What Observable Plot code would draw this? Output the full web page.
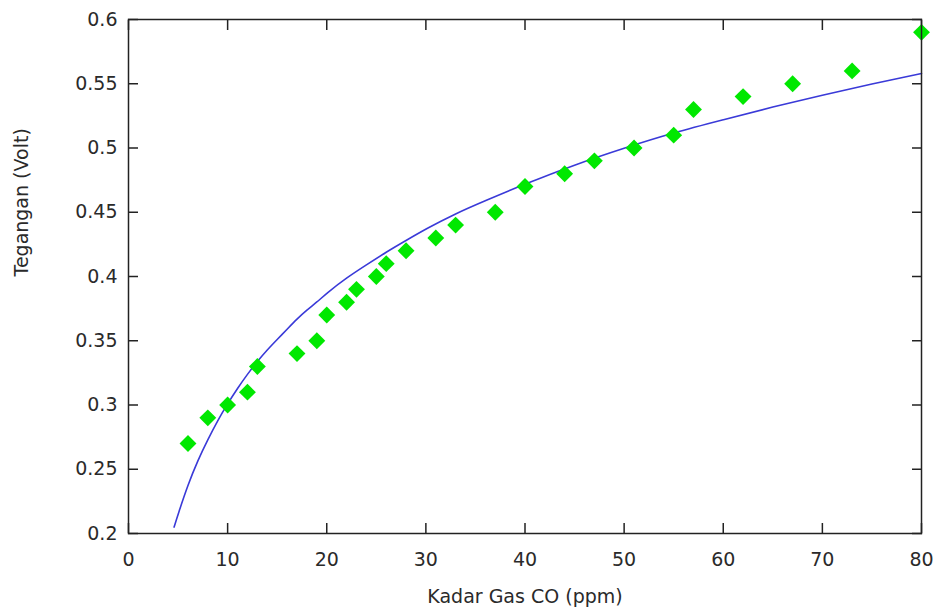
<!DOCTYPE html>
<html>
<head>
<meta charset="utf-8">
<script src="https://cdn.jsdelivr.net/npm/d3@7"></script>
<script src="https://cdn.jsdelivr.net/npm/@observablehq/plot@0.6"></script>
<style>
  html, body { margin: 0; padding: 0; background: #fff; }
  svg { font-family: "DejaVu Sans", sans-serif; }
</style>
</head>
<body>
<div id="chart"></div>
<script>
// Measured points (x: CO ppm, y: volt)
const pointX = [6, 8, 10, 12, 13, 17, 19, 20, 22, 23, 25, 26, 28, 31, 33, 37, 40, 44, 47, 51, 55, 57, 62, 67, 73, 80];
const pointY = [0.27, 0.29, 0.30, 0.31, 0.33, 0.34, 0.35, 0.37, 0.38, 0.39, 0.40, 0.41, 0.42, 0.43, 0.44, 0.45, 0.47, 0.48, 0.49, 0.50, 0.51, 0.53, 0.54, 0.55, 0.56, 0.59];

// Fitted curve, values
const curveX = [4.6, 5, 6, 7, 8, 9, 10, 11, 12, 13, 14, 15, 16, 17, 18, 19, 20, 22, 24, 26, 28, 30, 33, 36, 40, 45, 50, 55, 60, 65, 70, 75, 80];
const curveY = [0.205, 0.215, 0.238, 0.257, 0.273, 0.288, 0.301, 0.313, 0.324, 0.334, 0.343, 0.351, 0.359, 0.367, 0.374, 0.380, 0.387, 0.399, 0.409, 0.419, 0.428, 0.437, 0.449, 0.459, 0.472, 0.487, 0.500, 0.512, 0.522, 0.532, 0.541, 0.550, 0.558];

const xTicks = [0, 10, 20, 30, 40, 50, 60, 70, 80];
const yTicks = [0.2, 0.25, 0.3, 0.35, 0.4, 0.45, 0.5, 0.55, 0.6];
const yTickLabels = ["0.2", "0.25", "0.3", "0.35", "0.4", "0.45", "0.5", "0.55", "0.6"];

const xLabel = "Kadar Gas CO (ppm)";
const yLabel = "Tegangan (Volt)";

const points = pointX.map((x, i) => ({x, y: pointY[i]}));
const curve = curveX.map((x, i) => ({x, y: curveY[i]}));

const textColor = "#2a2a2a";
const chart = Plot.plot({
  width: 941,
  height: 610,
  marginLeft: 128,
  marginRight: 20,
  marginTop: 19,
  marginBottom: 77,
  style: {fontFamily: "DejaVu Sans, sans-serif", fontSize: "19px", color: textColor, background: "#fff"},
  x: {domain: [0, 80]},
  y: {domain: [0.2, 0.6]},
  marks: [
    // inward ticks on all four sides
    Plot.axisX({anchor: "bottom", ticks: xTicks, tickSize: -10, tickFormat: () => "", label: null, stroke: "#222", strokeWidth: 1.5}),
    Plot.axisX({anchor: "top", ticks: xTicks, tickSize: -10, tickFormat: () => "", label: null, stroke: "#222", strokeWidth: 1.5}),
    Plot.axisY({anchor: "left", ticks: yTicks, tickSize: -10, tickFormat: () => "", label: null, stroke: "#222", strokeWidth: 1.5}),
    Plot.axisY({anchor: "right", ticks: yTicks, tickSize: -10, tickFormat: () => "", label: null, stroke: "#222", strokeWidth: 1.5}),
    // tick labels
    Plot.axisX({anchor: "bottom", ticks: xTicks, tickSize: 0, tickPadding: 19, label: null, fill: textColor, style: "letter-spacing:0.8px"}),
    Plot.axisY({anchor: "left", ticks: yTicks, tickSize: 0, tickPadding: 11, label: null, fill: textColor, style: "letter-spacing:0.8px",
      tickFormat: d => yTickLabels[yTicks.findIndex(t => Math.abs(t - d) < 1e-9)]}),
    // curve and points
    Plot.line(curve, {x: "x", y: "y", stroke: "#3a3ad8", strokeWidth: 1.6, curve: "basis"}),
    Plot.dot(points, {x: "x", y: "y", symbol: "diamond2", r: 7.6, fill: "#00e800", stroke: "none"}),
    Plot.frame({stroke: "#222", strokeWidth: 1.5}),
    // axis titles
    Plot.text([xLabel], {frameAnchor: "bottom", dy: 63, text: d => d, fill: textColor, fontSize: 19, lineAnchor: "middle", style: "letter-spacing:1.1px"}),
    Plot.text([yLabel], {frameAnchor: "left", dx: -107, rotate: -90, text: d => d, fill: textColor, fontSize: 19, lineAnchor: "middle", style: "letter-spacing:0.4px"})
  ]
});
document.getElementById("chart").appendChild(chart);
</script>
</body>
</html>
